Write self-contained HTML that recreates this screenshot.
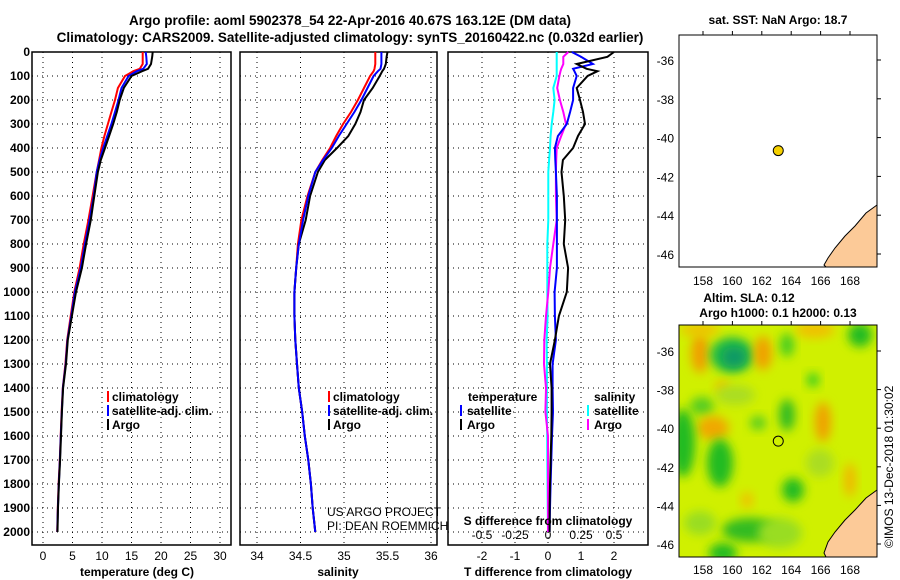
<!DOCTYPE html>
<html><head><meta charset="utf-8"><style>
body{margin:0;background:#fff}
svg{display:block;font-family:"Liberation Sans",sans-serif}
.b{font-weight:bold;font-size:12px}
</style></head><body>
<svg id="s" width="900" height="580" viewBox="0 0 900 580" xmlns="http://www.w3.org/2000/svg">
<defs>
<filter id="bl" x="-50%" y="-50%" width="200%" height="200%"><feGaussianBlur stdDeviation="5"/></filter>
<clipPath id="cm2"><rect x="679" y="325" width="198" height="232"/></clipPath>
</defs>
<text x="350" y="25" text-anchor="middle" font-size="13.5" font-weight="bold">Argo profile: aoml 5902378_54 22-Apr-2016 40.67S 163.12E (DM data)</text>
<text x="350" y="42" text-anchor="middle" font-size="13.5" font-weight="bold">Climatology: CARS2009. Satellite-adjusted climatology: synTS_20160422.nc (0.032d earlier)</text>
<g id="g"></g>
</svg>
<script>
// ---- data ----
const depths=[0,20,50,70,80,100,150,200,250,300,350,400,450,500,600,700,800,900,1000,1100,1200,1300,1400,1500,1600,1700,1800,1900,2000];
const tArgo=[18.6,18.5,18.3,17.8,16.8,15.0,13.7,13.0,12.5,11.9,11.2,10.5,9.8,9.3,8.7,8.1,7.3,6.6,5.6,4.9,4.2,3.9,3.4,3.2,3.05,2.9,2.7,2.55,2.45];
const tClim=[16.9,16.9,16.9,16.4,15.3,13.9,12.7,12.2,11.6,11.0,10.4,9.9,9.5,9.1,8.4,7.7,6.9,6.2,5.3,4.7,4.1,3.8,3.35,3.15,3.0,2.85,2.65,2.5,2.4];
const tSat=[17.4,17.5,17.6,17.0,15.9,14.5,13.3,12.8,12.2,11.6,10.9,10.2,9.6,9.1,8.6,7.9,7.1,6.4,5.4,4.8,4.15,3.85,3.38,3.18,3.02,2.87,2.68,2.52,2.42];
const sArgo=[35.50,35.49,35.48,35.46,35.44,35.41,35.33,35.23,35.19,35.13,35.05,34.92,34.78,34.70,34.61,34.56,34.48,34.45,34.43,34.43,34.44,34.46,34.48,34.52,34.55,34.59,34.62,34.64,34.67];
const sClim=[35.36,35.36,35.36,35.35,35.34,35.30,35.23,35.16,35.08,34.99,34.91,34.84,34.75,34.67,34.58,34.51,34.47,34.45,34.43,34.43,34.44,34.46,34.48,34.52,34.55,34.59,34.62,34.64,34.67];
const sSat=[35.43,35.43,35.43,35.42,35.39,35.34,35.27,35.20,35.12,35.03,34.94,34.86,34.76,34.67,34.59,34.53,34.48,34.45,34.43,34.43,34.44,34.46,34.48,34.52,34.55,34.59,34.62,34.64,34.67];
const dtArgo=[2.0,1.8,0.87,1.17,1.5,1.2,0.87,0.97,1.06,1.12,0.91,0.76,0.45,0.41,0.48,0.52,0.48,0.61,0.57,0.33,0.21,0.06,0.11,0.11,0.10,0.08,0.06,0.05,0.05];
const dtSat=[0.72,1.0,1.36,0.76,0.8,0.87,0.76,0.76,0.67,0.57,0.30,0.21,0.22,0.24,0.27,0.27,0.27,0.27,0.20,0.21,0.24,0.14,0.14,0.15,0.12,0.10,0.08,0.06,0.05];
const dsSat=[0.066,0.066,0.066,0.066,0.066,0.066,0.04,0.05,0.04,0.028,0.02,0.015,0.008,0.002,0.002,0.002,-0.005,-0.005,-0.005,-0.003,-0.01,-0.008,-0.008,-0.008,-0.006,-0.005,-0.004,-0.002,0];
const dsArgo=[0.154,0.116,0.116,0.10,0.095,0.086,0.07,0.09,0.116,0.136,0.10,0.066,0.062,0.06,0.06,0.066,0.04,0.015,0.002,-0.015,-0.028,-0.03,-0.015,-0.02,0,0,0,0,0];
const depthTicks=[0,100,200,300,400,500,600,700,800,900,1000,1100,1200,1300,1400,1500,1600,1700,1800,1900,2000];
const tTicks=[0,5,10,15,20,25,30];
const sTicks=[34,34.5,35,35.5,36];
const dtTicks=[-2,-1,0,1,2];
const dsTicks=[-0.5,-0.25,0,0.25,0.5];
const latTicks=[-36,-38,-40,-42,-44,-46];
const lonTicks=[158,160,162,164,166,168];
const floatLon=163.12, floatLat=-40.67;

// ---- scales ----
const Y=d=>52+0.24*d;
const XT=t=>43+5.9*t;
const XS=s=>257+87*(s-34);
const XD=v=>548+33*v;
const XDS=v=>548+132*v;
const MX=l=>703+14.7*(l-158);
const MY1=a=>60+19.4*(-36-a);
const MY2=a=>351+19.3*(-36-a);

const NS='http://www.w3.org/2000/svg';
const G=document.getElementById('g');
function mk(tag,at,par){const e=document.createElementNS(NS,tag);for(const k in at)e.setAttribute(k,at[k]);(par||G).appendChild(e);return e;}
function txt(x,y,s,at){const e=mk('text',Object.assign({x:x,y:y},at||{}));e.textContent=s;return e;}

function panel(x0,x1,name){
  const r=mk('rect',{x:x0,y:52,width:x1-x0,height:493,fill:'none',stroke:'#000','stroke-width':1.5});
  
  
  depthTicks.forEach(d=>{ if(d>0){const l=mk('line',{x1:x0,x2:x1,y1:Y(d),y2:Y(d),stroke:'#000','stroke-dasharray':'1 4'});
    
    }});
}
function vgrid(xs,name){xs.forEach(x=>{const l=mk('line',{x1:x,x2:x,y1:52,y2:545,stroke:'#000','stroke-dasharray':'1 4'});
  
  });}
function line(vals,X,color,name,w){
  const pts=vals.map((v,i)=>X(v).toFixed(1)+','+Y(depths[i]).toFixed(1)).join(' ');
  const p=mk('polyline',{points:pts,fill:'none',stroke:color,'stroke-width':w||2});
  
  
}
depthTicks.forEach(d=>{const t=txt(30,Y(d)+4,d,{'text-anchor':'end',class:'b'});
  
  });

panel(32,231,'temperature-panel');
vgrid(tTicks.map(XT),'temperature-grid');
tTicks.forEach(t=>{const e=txt(XT(t),560,t,{'text-anchor':'middle','font-size':12});
  
  });
line(tClim,XT,'#f00','temperature-climatology-line');
line(tSat,XT,'#00f','temperature-satellite-line');
line(tArgo,XT,'#000','temperature-argo-line');

panel(240,437,'salinity-panel');
vgrid(sTicks.map(XS),'salinity-grid');
sTicks.forEach(t=>{const e=txt(XS(t),560,t,{'text-anchor':'middle','font-size':12});
  
  });
line(sClim,XS,'#f00','salinity-climatology-line');
line(sArgo,XS,'#000','salinity-argo-line');
line(sSat,XS,'#00f','salinity-satellite-line');

panel(448,648,'difference-panel');
vgrid(dtTicks.map(XD),'difference-grid');
dtTicks.forEach(t=>{const e=txt(XD(t),560,t,{'text-anchor':'middle','font-size':12});
  
  });
dsTicks.forEach(t=>{const e=txt(XDS(t),539,t,{'text-anchor':'middle','font-size':12});
  
  });
line(dsSat,XDS,'#0ff','s-diff-satellite-line');
line(dsArgo,XDS,'#f0f','s-diff-argo-line');
line(dtSat,XD,'#00f','t-diff-satellite-line');
line(dtArgo,XD,'#000','t-diff-argo-line');

// map 1
const m1=mk('rect',{x:679,y:35,width:198,height:232,fill:'#fff',stroke:'#000','stroke-width':1});


const land1=mk('polygon',{points:'877,205 866,213 855,226 845,236 835,248 828,258 824,265 826,267 877,267',fill:'#fcca98',stroke:'#000','stroke-width':1});


const dot=mk('circle',{cx:MX(floatLon),cy:MY1(floatLat),r:5,fill:'#f5d000',stroke:'#000'});


// map 2 heatmap
const hm=mk('g',{'clip-path':'url(#cm2)'});


mk('rect',{x:679,y:325,width:198,height:232,fill:'#d0f000'},hm);
const blobs=[[700,353,9,20,'#f0a000'],[732,355,22,18,'#22bb44'],[734,357,12,10,'#119966'],[763,353,9,17,'#f0a000'],[787,345,7,12,'#44cc22'],[860,335,12,12,'#22bb22'],[813,380,6,7,'#33cc22'],[722,386,7,5,'#f0b800'],[702,406,12,9,'#55cc22'],[787,415,8,16,'#33bb22'],[713,428,16,12,'#f0a800'],[823,422,8,20,'#f0a000'],[683,443,12,34,'#22bb22'],[720,463,13,24,'#22bb22'],[758,423,8,7,'#55cc22'],[793,490,11,12,'#22bb22'],[747,500,6,8,'#f0c000'],[850,480,6,17,'#f0b800'],[750,530,28,12,'#33bb22'],[723,553,14,10,'#22bb22'],[850,551,10,8,'#22bb22'],[700,523,16,12,'#99dd22'],[780,533,22,15,'#99dd22'],[820,463,14,14,'#aadd22'],[735,395,20,10,'#aadd22'],[815,330,20,8,'#f0c000'],[700,330,20,6,'#f0c000']];
blobs.forEach(b=>{const e=mk('ellipse',{cx:b[0],cy:b[1],rx:b[2],ry:b[3],fill:b[4],filter:'url(#bl)'},hm);
  
  });
const land2=mk('polygon',{points:'877,490 866,498 855,510 845,520 835,532 828,542 824,553 826,557 877,557',fill:'#fcca98',stroke:'#000','stroke-width':1});


const m2=mk('rect',{x:679,y:325,width:198,height:232,fill:'none',stroke:'#000','stroke-width':1});


const c2=mk('circle',{cx:MX(floatLon),cy:MY2(floatLat),r:5,fill:'none',stroke:'#000'});


latTicks.forEach(a=>{
  const e=txt(674,MY1(a)+5,a,{'text-anchor':'end','font-size':12});
  
  
  const e2=txt(674,MY2(a)+5,a,{'text-anchor':'end','font-size':12});
  
  
  mk('line',{x1:877,x2:881,y1:MY1(a),y2:MY1(a),stroke:'#000'});
  mk('line',{x1:877,x2:881,y1:MY2(a),y2:MY2(a),stroke:'#000'});
});
lonTicks.forEach(l=>{
  const e=txt(MX(l),285,l,{'text-anchor':'middle','font-size':12});
  
  
  const e2=txt(MX(l),574,l,{'text-anchor':'middle','font-size':12});
  
  
  mk('line',{x1:MX(l),x2:MX(l),y1:31,y2:35,stroke:'#000'});
  mk('line',{x1:MX(l),x2:MX(l),y1:321,y2:325,stroke:'#000'});
});
</script>
<div style="position:absolute;left:0;top:0;width:900px;height:580px;pointer-events:none;font-family:'Liberation Sans',sans-serif">
<svg width="900" height="580" style="position:absolute;left:0;top:0">
<g font-family="Liberation Sans, sans-serif" font-size="12" font-weight="bold">
<text x="137" y="576" text-anchor="middle">temperature (deg C)</text>
<text x="338" y="576" text-anchor="middle">salinity</text>
<text x="548" y="576" text-anchor="middle">T difference from climatology</text>
<text x="548" y="525" text-anchor="middle">S difference from climatology</text>
<g>
<rect x="107" y="391" width="2" height="11" fill="#f00"/><text x="112" y="401">climatology</text>
<rect x="107" y="405" width="2" height="11" fill="#00f"/><text x="112" y="415">satellite-adj. clim.</text>
<rect x="107" y="419" width="2" height="11" fill="#000"/><text x="112" y="429">Argo</text></g>
<g>
<rect x="328" y="391" width="2" height="11" fill="#f00"/><text x="333" y="401">climatology</text>
<rect x="328" y="405" width="2" height="11" fill="#00f"/><text x="333" y="415">satellite-adj. clim.</text>
<rect x="328" y="419" width="2" height="11" fill="#000"/><text x="333" y="429">Argo</text></g>
<g>
<text x="468" y="401">temperature</text>
<rect x="460" y="405" width="2" height="11" fill="#00f"/><text x="467" y="415">satellite</text>
<rect x="460" y="419" width="2" height="11" fill="#000"/><text x="467" y="429">Argo</text>
<text x="594" y="401">salinity</text>
<rect x="587" y="405" width="2" height="11" fill="#0ff"/><text x="594" y="415">satellite</text>
<rect x="587" y="419" width="2" height="11" fill="#f0f"/><text x="594" y="429">Argo</text></g>
<text x="778" y="24" text-anchor="middle">sat. SST: NaN Argo: 18.7</text>
<text x="749" y="302" text-anchor="middle">Altim. SLA: 0.12</text>
<text x="778" y="317" text-anchor="middle">Argo h1000: 0.1 h2000: 0.13</text>
</g>
<text x="327" y="516" font-family="Liberation Sans, sans-serif" font-size="12">US ARGO PROJECT</text>
<text x="327" y="530" font-family="Liberation Sans, sans-serif" font-size="12">PI: DEAN ROEMMICH</text>
<text transform="translate(893,548) rotate(-90)" font-family="Liberation Sans, sans-serif" font-size="12">©IMOS 13-Dec-2018 01:30:02</text>
</svg></div>
</body></html>
